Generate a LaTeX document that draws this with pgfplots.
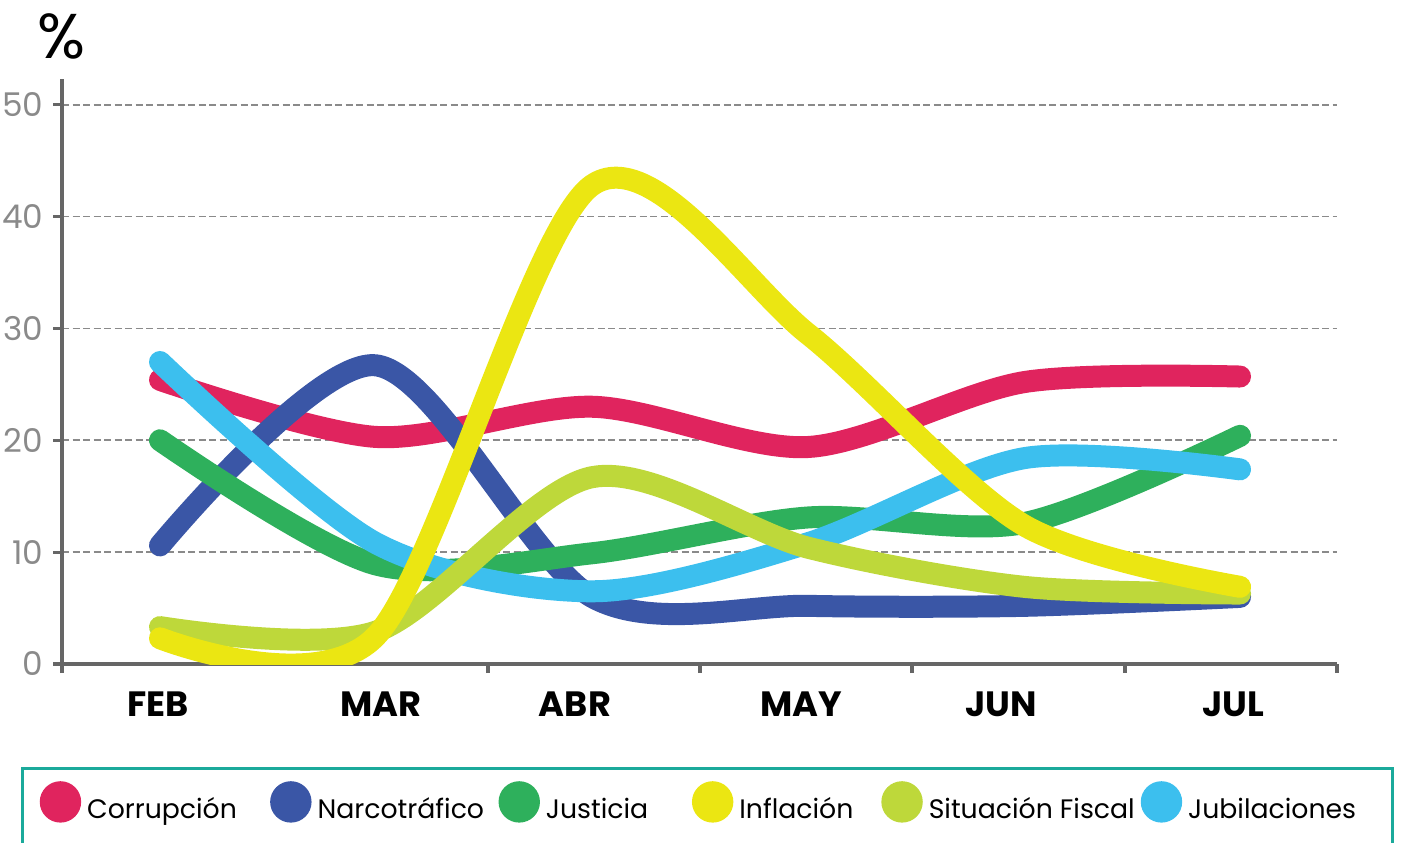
\documentclass[border=0pt]{standalone}
\usepackage{fontspec}
\setmainfont{Poppins}
\usepackage{pgfplots}
\pgfplotsset{compat=1.18}

\definecolor{cRed}{HTML}{E0245E}
\definecolor{cBlue}{HTML}{3A56A6}
\definecolor{cGreen}{HTML}{2EB05C}
\definecolor{cYellow}{HTML}{EBE612}
\definecolor{cLime}{HTML}{BED83A}
\definecolor{cSky}{HTML}{3CBFEE}
\definecolor{axisgray}{HTML}{666666}
\definecolor{tickgray}{HTML}{8A8A8A}
\definecolor{frameteal}{HTML}{1BAA9B}

\pgfplotsset{
  curve/.style={line width=2.2mm, smooth, line cap=round, no markers, forget plot},
}

\begin{document}
\begin{tikzpicture}
\path[use as bounding box] (-0.62,-1.79) rectangle (13.41,6.64);
\draw[frameteal, line width=0.3mm] (-0.40,-1.04) rectangle (13.30,-2.6);
\begin{axis}[
  at={(0,0)}, anchor=south west,
  width=12.75cm, height=5.85cm, scale only axis,
  xmin=-0.4537, xmax=5.449, ymin=0, ymax=52.3,
  axis lines*=left,
  axis line style={draw=axisgray, line width=0.9pt},
  tick align=outside, major tick length=0.09cm,
  tick style={axisgray, line width=0.9pt},
  ytick={0,10,20,30,40,50},
  ymajorgrids,
  grid style={tickgray, line width=0.5pt, dash pattern=on 0.7mm off 0.35mm},
  /pgf/number format/assume math mode=true,
  yticklabel style={font=\fontsize{9.3}{11}\selectfont, color=tickgray,
    inner sep=0pt, anchor=east, xshift=-0.09cm},
  xtick={-0.4537,1.5185,2.5,3.4815,4.4676,5.449},
  xticklabels={},
  extra x ticks={-0.009,1.023,1.921,2.968,3.894,4.968},
  extra x tick labels={FEB,MAR,ABR,MAY,JUN,JUL},
  extra x tick style={major tick length=0pt, grid=none,
    xticklabel style={font=\fontsize{10}{12}\bfseries, color=black, yshift=-0.15cm}},
  ylabel={\%},
  every axis y label/.style={at={(axis description cs:0,1)}, anchor=base, rotate=0,
    yshift=0.21cm, inner sep=0pt, font=\fontsize{18}{18}\selectfont},
  legend image code/.code={\fill (0cm,0.09cm) circle (0.2cm);},
  legend columns=6,
  legend style={at={(-0.018,-0.237)}, anchor=west, draw=none, fill=none,
    inner sep=0pt, nodes={inner sep=0pt}, font=\fontsize{7.6}{9}\selectfont,
    /tikz/every odd column/.append style={column sep=0.06cm}},
]
\addplot[curve, cRed] coordinates {(0,25.4) (1,20.3) (2,23.0) (3,19.4) (4,25.2) (5,25.7)};
\addplot[curve, cBlue] coordinates {(0,10.6) (1,26.7) (2,6.0) (3,5.2) (4,5.2) (5,6.0)};
\addplot[curve, cGreen] coordinates {(0,20.0) (1,8.9) (2,9.9) (3,13.1) (4,12.6) (5,20.4)};
\addplot[curve, cSky] coordinates {(0,27.0) (1,10.8) (2,6.5) (3,10.8) (4,18.4) (5,17.4)};
\addplot[curve, cLime] coordinates {(0,3.3) (1,2.9) (2,16.7) (3,10.4) (4,6.9) (5,6.3)};
\addplot[curve, cYellow] coordinates {(0,2.3) (1,2.5) (2,42.8) (3,29.5) (4,12.4) (5,6.9)};

\addlegendimage{cRed}\addlegendentry{\makebox[1.83cm][l]{Corrupción}}
\addlegendimage{cBlue}\addlegendentry{\makebox[1.81cm][l]{Narcotráfico}}
\addlegendimage{cGreen}\addlegendentry{\makebox[1.46cm][l]{Justicia}}
\addlegendimage{cYellow}\addlegendentry{\makebox[1.42cm][l]{Inflación}}
\addlegendimage{cLime}\addlegendentry{\makebox[2.12cm][l]{Situación Fiscal}}
\addlegendimage{cSky}\addlegendentry{Jubilaciones}
\end{axis}
\end{tikzpicture}
\end{document}
